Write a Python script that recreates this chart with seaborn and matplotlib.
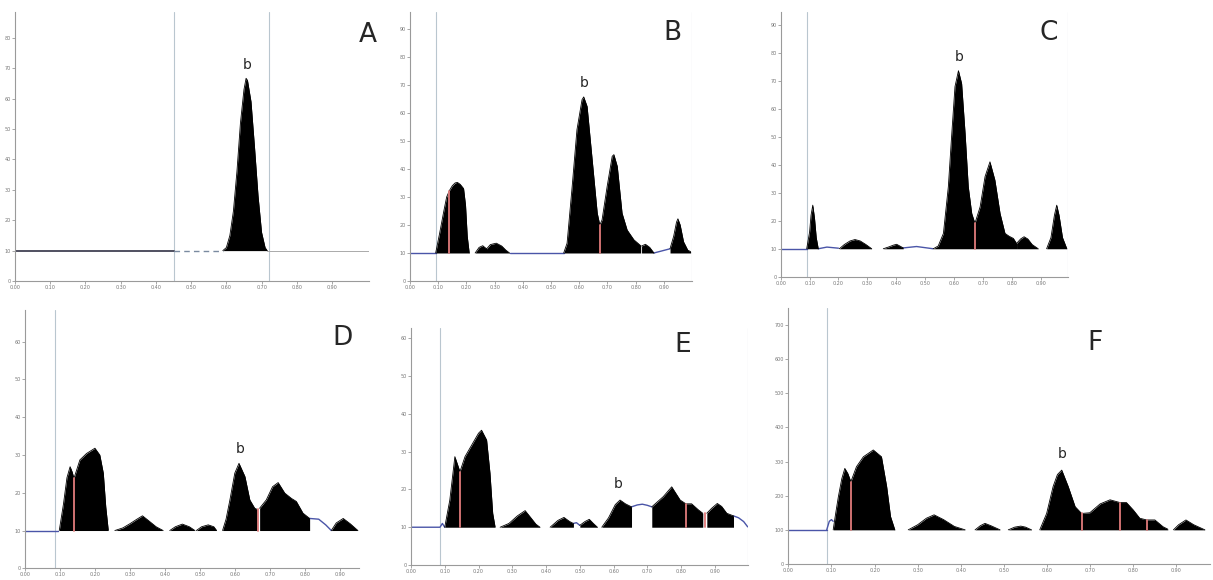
import matplotlib
matplotlib.use('Agg')
import matplotlib.pyplot as plt
import seaborn as sns

sns.set_style('ticks')
plt.rcParams['font.family'] = ['DejaVu Sans']

# x ticks shared by all six chromatograms
X_TICKS = [0.0, 0.1, 0.2, 0.3, 0.4, 0.5, 0.6, 0.7, 0.8, 0.9]
X_TICK_LABELS = ['0.00', '0.10', '0.20', '0.30', '0.40', '0.50', '0.60', '0.70', '0.80', '0.90']

# ---- A ----
A_SEG_X = [[0.59, 0.60, 0.61, 0.62, 0.63, 0.64, 0.65, 0.656, 0.66, 0.67, 0.68, 0.69, 0.70, 0.71, 0.716]]
A_SEG_Y = [[10, 11, 15, 23, 36, 52, 63, 66.7, 66, 59, 44, 28, 16, 11, 10]]
A_Y_TICKS = [0, 10, 20, 30, 40, 50, 60, 70, 80]
A_SPLITS = []
A_REF = [0.45, 0.72]

# ---- B ----
B_SEG_X = [
    [0.091, 0.105, 0.12, 0.13, 0.14, 0.15, 0.16, 0.168, 0.178, 0.19, 0.197, 0.203, 0.21],
    [0.231, 0.245, 0.258, 0.265, 0.272, 0.285, 0.306, 0.325, 0.34, 0.353],
    [0.545, 0.557, 0.575, 0.592, 0.61, 0.616, 0.628, 0.646, 0.664, 0.673, 0.681, 0.699, 0.717,
     0.723, 0.735, 0.752, 0.77, 0.794, 0.818],
    [0.821, 0.835, 0.85, 0.865],
    [0.922, 0.935, 0.945, 0.95, 0.958, 0.97, 0.985, 0.995],
]
B_SEG_Y = [
    [10, 17, 25, 30, 32.3, 34, 35, 35.2, 34.5, 33, 27, 16, 10],
    [10, 12, 12.6, 12, 11.5, 13, 13.5, 12.5, 11, 10],
    [10, 13.5, 33.7, 54, 64.7, 65.7, 62.3, 43.3, 24.2, 20, 21.8, 33.7, 44.5,
     45.1, 40.9, 24.2, 18.2, 14.7, 12.6],
    [12.5, 13.1, 12, 10],
    [11.5, 16, 21, 22.2, 20, 14, 11, 10.5],
]
B_BLUE_X = [[0.353, 0.545], [0.865, 0.922]]
B_BLUE_Y = [[10, 10], [10, 11.5]]
B_Y_TICKS = [0, 10, 20, 30, 40, 50, 60, 70, 80, 90]
B_SPLITS = [(0.14, 32.3), (0.673, 20)]
B_REF = [0.091, 1.0]

# ---- C ----
C_SEG_X = [
    [0.09, 0.1, 0.105, 0.111, 0.117, 0.123, 0.13],
    [0.203, 0.22, 0.24, 0.257, 0.275, 0.295, 0.315],
    [0.355, 0.375, 0.39, 0.401, 0.412, 0.424],
    [0.528, 0.545, 0.563, 0.58, 0.592, 0.603, 0.615, 0.626, 0.638, 0.649, 0.661, 0.672,
     0.69, 0.707, 0.724, 0.741, 0.759, 0.776, 0.79, 0.805, 0.816],
    [0.816, 0.83, 0.842, 0.855, 0.87, 0.891],
    [0.92, 0.935, 0.947, 0.955, 0.963, 0.975, 0.99],
]
C_SEG_Y = [
    [10, 16, 22, 25.6, 21, 14, 10],
    [10, 11.5, 12.8, 13.3, 12.8, 11.5, 10],
    [10, 10.7, 11.3, 11.6, 11, 10.3],
    [10, 11, 15.5, 32.2, 51.3, 68, 73.7, 69.1, 51.3, 32.2, 22.6, 19.1,
     25, 35.8, 41.1, 34.6, 22.6, 15.5, 14.5, 13.7, 11.9],
    [11.9, 13.5, 14.3, 13.5, 11.5, 10],
    [10, 14, 22, 25.6, 22, 14, 10],
]
C_BLUE_X = [[0.13, 0.16, 0.2], [0.424, 0.47, 0.528]]
C_BLUE_Y = [[10, 10.6, 10.2], [10.3, 10.8, 10]]
C_Y_TICKS = [0, 10, 20, 30, 40, 50, 60, 70, 80, 90]
C_SPLITS = [(0.672, 19.1)]
C_REF = [0.09, 0.995]

# ---- D ----
D_SEG_X = [
    [0.098, 0.11, 0.12, 0.129, 0.135, 0.14, 0.157, 0.176, 0.2, 0.214, 0.224, 0.231, 0.238],
    [0.257, 0.28, 0.3, 0.32, 0.336, 0.355, 0.375, 0.395],
    [0.414, 0.43, 0.45, 0.47, 0.486],
    [0.49, 0.505, 0.524, 0.54, 0.548],
    [0.565, 0.575, 0.586, 0.6, 0.612, 0.629, 0.643, 0.657, 0.664],
    [0.671, 0.69, 0.708, 0.724, 0.743, 0.762, 0.776, 0.795, 0.814],
    [0.876, 0.89, 0.91, 0.93, 0.952],
]
D_SEG_Y = [
    [10, 17, 24, 26.9, 25.5, 23.8, 28.7, 30.4, 31.8, 30, 25.2, 16.3, 10.2],
    [10, 10.7, 11.8, 13, 13.9, 12.5, 11, 10],
    [10, 11, 11.7, 11, 10],
    [10, 11, 11.5, 11, 10],
    [10, 13, 18.1, 25.2, 27.8, 24.3, 18.1, 15.9, 15.6],
    [15.9, 18.1, 21.6, 22.7, 19.9, 18.5, 17.7, 14.6, 13.2],
    [10, 12, 13.2, 11.8, 10],
]
D_BLUE_X = [[0.0, 0.095], [0.814, 0.84, 0.86, 0.876]]
D_BLUE_Y = [[10, 10], [13.2, 13, 11.5, 10]]
D_Y_TICKS = [0, 10, 20, 30, 40, 50, 60]
D_SPLITS = [(0.14, 23.8), (0.667, 15.7)]
D_REF = [0.086]

# ---- E ----
E_SEG_X = [
    [0.1, 0.115, 0.13, 0.145, 0.16, 0.18, 0.2, 0.209, 0.224, 0.234, 0.242, 0.249],
    [0.264, 0.29, 0.315, 0.338, 0.355, 0.37, 0.382],
    [0.412, 0.435, 0.453, 0.47, 0.481],
    [0.5, 0.515, 0.528, 0.54, 0.552],
    [0.565, 0.585, 0.605, 0.619, 0.635, 0.653],
    [0.713, 0.747, 0.772, 0.797, 0.814, 0.831, 0.851, 0.864],
    [0.876, 0.89, 0.907, 0.92, 0.935, 0.955],
]
E_SEG_Y = [
    [10, 17.2, 28.7, 24.7, 28.7, 31.8, 34.9, 35.7, 33.1, 24.3, 13.7, 10.1],
    [10, 11, 13, 14.4, 12.5, 10.8, 10],
    [10, 11.8, 12.6, 11.5, 11],
    [10.5, 11.5, 12.1, 11, 10],
    [10, 12.5, 16, 17.2, 16.2, 15.4],
    [15.4, 18.1, 20.7, 17.2, 16.2, 16.2, 14.6, 13.7],
    [13.7, 15, 16.3, 15.5, 13.7, 13],
]
E_BLUE_X = [[0.0, 0.086, 0.093, 0.1], [0.481, 0.49, 0.5],
            [0.653, 0.67, 0.685, 0.7, 0.713], [0.955, 0.97, 0.985, 0.997]]
E_BLUE_Y = [[10, 10, 11, 10], [11, 11.2, 10.5],
            [15.4, 15.9, 16.1, 15.8, 15.4], [13, 12.5, 11.5, 10.1]]
E_Y_TICKS = [0, 10, 20, 30, 40, 50, 60]
E_SPLITS = [(0.145, 24.7), (0.814, 16.2), (0.87, 13.7)]
E_REF = [0.086, 0.997]

# ---- F ----
F_SEG_X = [
    [0.104, 0.11, 0.116, 0.124, 0.131, 0.138, 0.145, 0.158, 0.174, 0.197, 0.216, 0.228, 0.237, 0.247],
    [0.278, 0.3, 0.32, 0.338, 0.36, 0.385, 0.41],
    [0.433, 0.445, 0.456, 0.47, 0.491],
    [0.51, 0.525, 0.539, 0.55, 0.564],
    [0.583, 0.599, 0.614, 0.624, 0.634, 0.649, 0.665, 0.68, 0.699, 0.723, 0.746, 0.769,
     0.784, 0.8, 0.815, 0.831, 0.85, 0.869, 0.88],
    [0.893, 0.905, 0.922, 0.94, 0.966],
]
F_SEG_Y = [
    [100, 150, 197, 250, 280, 265, 241, 285, 314, 334, 314, 227, 139, 100],
    [100, 115, 134, 144, 130, 110, 100],
    [100, 112, 119, 112, 100],
    [100, 108, 111, 108, 100],
    [100, 148, 227, 262, 275, 227, 168, 148, 150, 176, 188, 180,
     180, 158, 134, 129, 129, 109, 102],
    [100, 115, 129, 115, 100],
]
F_BLUE_X = [[0.0, 0.089], [0.089, 0.095, 0.1, 0.104]]
F_BLUE_Y = [[100, 100], [100, 125, 130, 125]]
F_Y_TICKS = [0, 100, 200, 300, 400, 500, 600, 700]
F_SPLITS = [(0.145, 241), (0.68, 148), (0.769, 180), (0.831, 129)]
F_REF = [0.089]


def draw_panel(ax, seg_x, seg_y, base, xmax, ymax, yticks, splits, refs, letter, letter_xy, b_xy,
               blue_x=(), blue_y=()):
    for rx in refs:
        ax.axvline(rx, color='#b9c6cf', lw=0.8, zorder=1)
    for xs, ys in zip(blue_x, blue_y):
        ax.plot(xs, ys, color='#4a55a8', lw=1.0, zorder=2)
    for xs, ys in zip(seg_x, seg_y):
        ax.fill_between(xs, base, ys, color='black', lw=0, zorder=3)
        sns.lineplot(x=xs, y=ys, ax=ax, color='black', lw=0.6, sort=False, zorder=4)
    for sx, sy in splits:
        ax.plot([sx, sx], [base, sy], color='#e07a7a', lw=1.3, zorder=5)
    ax.set_xlim(0, xmax)
    ax.set_ylim(0, ymax)
    ax.set_xticks(X_TICKS)
    ax.set_xticklabels(X_TICK_LABELS)
    ax.set_yticks(yticks)
    ax.set_yticklabels([str(t) for t in yticks])
    ax.tick_params(length=2, width=0.6, color='#999999', labelsize=3.5, labelcolor='#777777', pad=1)
    for side in ['top', 'right']:
        ax.spines[side].set_visible(False)
    for side in ['left', 'bottom']:
        ax.spines[side].set_color('#9a9a9a')
        ax.spines[side].set_linewidth(0.8)
    ax.set_xlabel('')
    ax.set_ylabel('')
    ax.text(b_xy[0], b_xy[1], 'b', fontsize=10, ha='center', va='center')
    ax.text(letter_xy[0], letter_xy[1], letter, fontsize=19, ha='center', va='center',
            transform=ax.figure.transFigure)


fig = plt.figure(figsize=(12.13, 5.8), dpi=100)
ax_a = fig.add_axes([0.0124, 0.5155, 0.2918, 0.4638])
ax_b = fig.add_axes([0.338, 0.5155, 0.2325, 0.4638])
ax_c = fig.add_axes([0.6436, 0.5229, 0.2371, 0.4564])
ax_d = fig.add_axes([0.0206, 0.0202, 0.2753, 0.4453])
ax_e = fig.add_axes([0.3388, 0.0259, 0.2776, 0.4081])
ax_f = fig.add_axes([0.6499, 0.0276, 0.3477, 0.4409])

# A: baseline drawn separately (solid, dashed, thin)
ax_a.plot([0, 0.45], [10, 10], color='#505060', lw=1.4, zorder=2)
ax_a.plot([0.45, 0.59], [10, 10], color='#7a8aa0', lw=1.0, ls=(0, (4, 3)), zorder=2)
ax_a.plot([0.716, 1.005], [10, 10], color='#aaaaaa', lw=0.7, zorder=2)
draw_panel(ax_a, A_SEG_X, A_SEG_Y, 10, 1.005, 88.5, A_Y_TICKS, A_SPLITS, A_REF,
           'A', (368 / 1213, 1 - 35 / 580), (0.66, 71))
ax_b.plot([0, 0.091], [10, 10], color='#4a55a8', lw=1.0, zorder=2)
draw_panel(ax_b, B_SEG_X, B_SEG_Y, 10, 1.0, 96, B_Y_TICKS, B_SPLITS, B_REF,
           'B', (672 / 1213, 1 - 33 / 580), (0.616, 70.5), B_BLUE_X, B_BLUE_Y)
ax_c.plot([0, 0.09], [10, 10], color='#4a55a8', lw=1.0, zorder=2)
draw_panel(ax_c, C_SEG_X, C_SEG_Y, 10, 0.995, 94.7, C_Y_TICKS, C_SPLITS, C_REF,
           'C', (1049 / 1213, 1 - 33 / 580), (0.618, 78.5), C_BLUE_X, C_BLUE_Y)
draw_panel(ax_d, D_SEG_X, D_SEG_Y, 10, 0.955, 68.4, D_Y_TICKS, D_SPLITS, D_REF,
           'D', (343 / 1213, 1 - 338 / 580), (0.614, 31.5), D_BLUE_X, D_BLUE_Y)
draw_panel(ax_e, E_SEG_X, E_SEG_Y, 10, 0.997, 62.7, E_Y_TICKS, E_SPLITS, E_REF,
           'E', (683 / 1213, 1 - 345 / 580), (0.614, 21.5), E_BLUE_X, E_BLUE_Y)
draw_panel(ax_f, F_SEG_X, F_SEG_Y, 100, 0.978, 749, F_Y_TICKS, F_SPLITS, F_REF,
           'F', (1095 / 1213, 1 - 343 / 580), (0.634, 322), F_BLUE_X, F_BLUE_Y)

fig.savefig('out.png', dpi=100, facecolor='white')
